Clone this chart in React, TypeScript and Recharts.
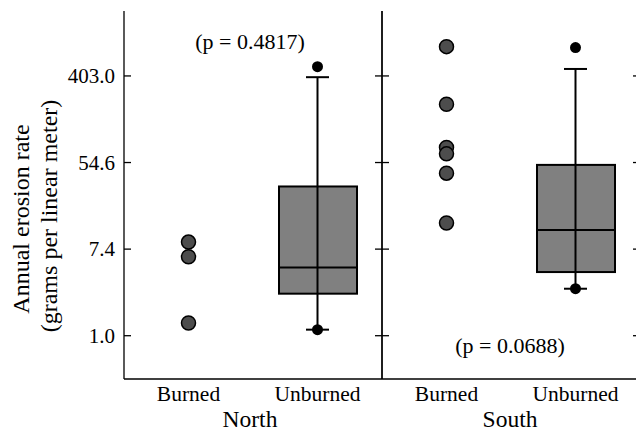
import React from 'react';
import { ComposedChart, Bar, Scatter, XAxis, YAxis, ErrorBar } from 'recharts';

// categories and axis ticks
const groups = ['Burned', 'Unburned'];
const yTicks = [1, 7.389, 54.598, 403.429];
const yTickLabels = ['1.0', '7.4', '54.6', '403.0'];

// North site
const northBurned = [8.7, 6.2, 1.34];
const northBox = { min: 1.15, q1: 2.64, median: 4.84, q3: 31.4, max: 392 };
const northOutliers = [500, 1.15];

// South site
const southBurned = [794, 210, 77.2, 66.7, 42.7, 13.5];
const southBox = { min: 2.96, q1: 4.35, median: 11.5, q3: 51.7, max: 474 };
const southOutliers = [776, 2.96];

const FONT = '"Liberation Serif", "Times New Roman", serif';
const domain = [Math.exp(-1), Math.exp(7.5)];
const textStyle = { fontSize: 22, fontFamily: FONT, fill: '#000' };

type BoxStats = { min: number; q1: number; median: number; q3: number; max: number };

const GrayDot = (p: any) => (
  <circle cx={p.cx} cy={p.cy} r={7} fill="#4d4d4d" stroke="#000" strokeWidth={1.5} />
);
const BlackDot = (p: any) => <circle cx={p.cx} cy={p.cy} r={5.5} fill="#000" />;
const MedianLine = (p: any) => (
  <line x1={p.cx - 39} x2={p.cx + 39} y1={p.cy} y2={p.cy} stroke="#000" strokeWidth={2} />
);
const BoxRect = (p: any) =>
  p.height ? (
    <rect x={p.x} y={p.y} width={p.width} height={p.height} fill="#808080" stroke="#000" strokeWidth={2} />
  ) : null;

// inward tick marks; label only on the outer left axis
const leftTick = (withLabel: boolean, margin: number) => (p: any) => (
  <g>
    <line x1={p.x + margin} x2={p.x + margin + 7} y1={p.y} y2={p.y} stroke="#000" strokeWidth={1.3} />
    {withLabel && (
      <text x={p.x} y={p.y} dy={7} textAnchor="end" style={{ ...textStyle, fontSize: 21 }}>
        {yTickLabels[yTicks.indexOf(p.payload.value)]}
      </text>
    )}
  </g>
);
const rightTick = (p: any) => (
  <line x1={p.x - 7} x2={p.x} y1={p.y} y2={p.y} stroke="#000" strokeWidth={1.3} />
);

interface PanelProps {
  name: string;
  nameX: number;
  burned: number[];
  box: BoxStats;
  outliers: number[];
  first: boolean;
  note: { text: string; x: number; y: number };
}

const Panel: React.FC<PanelProps> = ({ name, nameX, burned, box, outliers, first, note }) => {
  const rows = groups.map((g) =>
    g === 'Unburned'
      ? { group: g, lo: box.q1, hi: box.q3, median: box.median, err: [box.median - box.min, box.max - box.median] }
      : { group: g }
  );
  const boxRow = rows.filter((r: any) => r.median != null);
  const burnedPts = burned.map((v) => ({ group: 'Burned', v }));
  const outlierPts = outliers.map((v) => ({ group: 'Unburned', v }));
  const axisStroke = { stroke: '#000', strokeWidth: 1.3 };
  const m = first ? 9 : 0;

  return (
    <ComposedChart
      width={first ? 392 : 278}
      height={431}
      data={rows}
      margin={{ top: 11, right: 0, bottom: 0, left: 0 }}
    >
      <XAxis
        dataKey="group"
        allowDuplicatedCategory={false}
        axisLine={axisStroke}
        tickLine={false}
        tickSize={0}
        tickMargin={7}
        height={52}
        tick={{ fill: '#000', fontSize: 21.5, fontFamily: FONT }}
      />
      <XAxis xAxisId="top" dataKey="group" orientation="top" height={0} tick={false} tickLine={false} axisLine={axisStroke} />
      <YAxis
        type="number"
        scale="log"
        domain={domain}
        allowDataOverflow
        ticks={yTicks}
        width={first ? 124 : 10}
        tickSize={0}
        tickMargin={m}
        axisLine={axisStroke}
        tickLine={false}
        tick={leftTick(first, m)}
      />
      <YAxis
        yAxisId="r"
        orientation="right"
        type="number"
        scale="log"
        domain={domain}
        allowDataOverflow
        ticks={yTicks}
        width={10}
        tickSize={0}
        tickMargin={0}
        axisLine={axisStroke}
        tickLine={false}
        tick={rightTick}
      />
      <Scatter data={boxRow} dataKey="median" shape={() => <g />} isAnimationActive={false}>
        <ErrorBar dataKey="err" direction="y" width={11.5} stroke="#000" strokeWidth={2} isAnimationActive={false} />
      </Scatter>
      <Bar
        dataKey={(d: any) => (d.hi != null ? [d.lo, d.hi] : null)}
        barSize={78}
        shape={BoxRect}
        isAnimationActive={false}
      />
      <Scatter data={boxRow} dataKey="median" shape={MedianLine} isAnimationActive={false} />
      <Scatter data={outlierPts} dataKey="v" shape={BlackDot} isAnimationActive={false} />
      <Scatter data={burnedPts} dataKey="v" shape={GrayDot} isAnimationActive={false} />
      <text x={note.x} y={note.y} textAnchor="middle" style={textStyle}>
        {note.text}
      </text>
      <text x={nameX} y={427} textAnchor="middle" style={{ ...textStyle, fontSize: 23.5 }}>
        {name}
      </text>
      {first && (
        <text x={29} y={219} textAnchor="middle" transform="rotate(-90, 29, 219)" style={{ ...textStyle, fontSize: 24 }}>
          Annual erosion rate
        </text>
      )}
      {first && (
        <text x={57} y={216} textAnchor="middle" transform="rotate(-90, 57, 216)" style={{ ...textStyle, fontSize: 24 }}>
          (grams per linear meter)
        </text>
      )}
    </ComposedChart>
  );
};

export default function App() {
  return (
    <div style={{ position: 'absolute', left: 0, top: 0, width: 636, height: 431, overflow: 'hidden', background: '#fff' }}>
      <div style={{ position: 'absolute', left: 0, top: 0 }}>
        <Panel
          name="North"
          nameX={250}
          burned={northBurned}
          box={northBox}
          outliers={northOutliers}
          first
          note={{ text: '(p = 0.4817)', x: 250, y: 49 }}
        />
      </div>
      <div style={{ position: 'absolute', left: 372, top: 0 }}>
        <Panel
          name="South"
          nameX={138}
          burned={southBurned}
          box={southBox}
          outliers={southOutliers}
          first={false}
          note={{ text: '(p = 0.0688)', x: 138, y: 353 }}
        />
      </div>
    </div>
  );
}
